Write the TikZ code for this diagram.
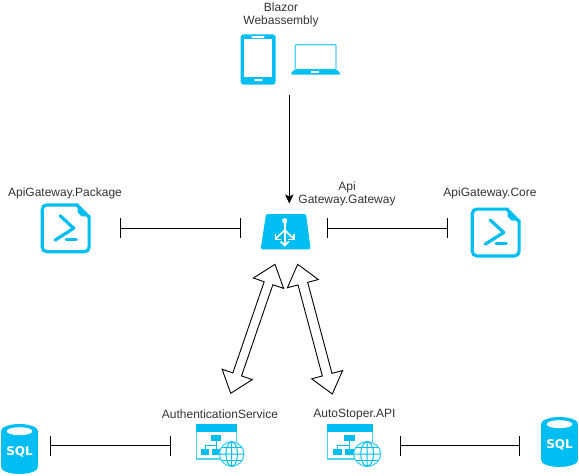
\documentclass[tikz,border=0pt]{standalone}
\usepackage{fontspec}
\setmainfont{Liberation Sans}
\newfontfamily\sqlfont[Scale=1]{DejaVu Sans}
\usetikzlibrary{arrows.meta,calc}
\definecolor{az}{HTML}{00BEF2}
\definecolor{azl}{HTML}{4DD2F6}
\definecolor{txt}{HTML}{333333}
\tikzset{
  lbl/.style={font=\fontsize{12}{13}\selectfont,text=txt,align=center,inner sep=0pt},
  iconbox/.style={inner sep=0pt,outer sep=0pt,minimum width=#1},
  barline/.style={draw=black,line width=0.8pt,{Bar[width=20pt,line width=1pt]}-{Bar[width=20pt,line width=1pt]}},
  flow/.style={draw=black,line width=0.9pt,-{Stealth[width=8.5pt,length=9pt,inset=2pt]}},
  hollow/.style={draw=black,fill=white,line width=0.9pt,line join=miter},
}
% doc icon, origin top-left, 50x50
\newcommand{\docicon}[2]{\begin{scope}[shift={(#1,#2)}]
  \draw[az,line width=3.2pt,rounded corners=4.5pt,fill=white] (38,1.6) -- (1.6,1.6) -- (1.6,48.4) -- (48.4,48.4) -- (48.4,12);
  \draw[az,line width=3.2pt,line cap=round] (36,1.6) -- (48.4,14);
  \fill[az] (37,0.5) -- (49.5,13) -- (41,13) -- (37,9) -- cycle;
  \draw[az,line width=3.2pt,line cap=round,line join=round] (19.5,12.5) -- (33,25) -- (14.5,36.7);
  \draw[az,line width=3.2pt,line cap=round] (25.5,36.3) -- (35.5,36.3);
\end{scope}}
% sql icon, origin top-left, 37x50
\newcommand{\sqlicon}[2]{\begin{scope}[shift={(#1,#2)}]
  \fill[az] (0,7) rectangle (37,43);
  \fill[az] (18.5,7) ellipse[x radius=18.5,y radius=7];
  \fill[az] (18.5,43) ellipse[x radius=18.5,y radius=7];
  \fill[white] (18.5,7.2) ellipse[x radius=12.8,y radius=4];
  \node[inner sep=0pt,text=white,font=\sqlfont\fontsize{12}{12}\bfseries\selectfont] at (18.5,27.5) {SQL};
\end{scope}}
% web app icon, origin top-left of the window; third argument is the width scale
\newcommand{\webicon}[3]{\begin{scope}[shift={(#1,#2)},xscale=#3]
  \draw[azl,line width=1.2pt,fill=white] (0.5,0.5) rectangle (40.5,35);
  \fill[az] (0,0) rectangle (41,8);
  \fill[az] (15.3,10.7) rectangle (25.3,16.5);
  \fill[az] (5.3,25) rectangle (13.3,30.5);
  \fill[az] (16,25) rectangle (24,30.5);
  \draw[az,line width=0.9pt] (20.3,16.5) -- (20.3,21) (9.3,25) -- (9.3,21) -- (20.3,21) -- (20.3,25);
  \draw[azl,line width=1.3pt,fill=white] (36,30) circle[radius=12.2];
  \draw[az,line width=1pt] (36,17.8) -- (36,42.2) (23.8,30) -- (48.2,30)
    (36,30) ellipse[x radius=5.8,y radius=12.2];
  \draw[az,line width=0.9pt] (26,23.5) -- (46,23.5) (26,36.5) -- (46,36.5);
\end{scope}}
% hollow two-headed arrow between two named points
\newcommand{\bigarrow}[3]{%
  \path coordinate (ua) at ($(#1)!20pt!(#2)$) coordinate (ub) at ($(#2)!20pt!(#1)$);
  \draw[hollow] (#1) -- ($(ua)!16pt!90:(#2)$) -- ($(ua)!#3!90:(#2)$) -- ($(ub)!#3!-90:(#1)$) -- ($(ub)!16pt!-90:(#1)$) -- (#2) -- ($(ub)!16pt!90:(#1)$) -- ($(ub)!#3!90:(#1)$) -- ($(ua)!#3!-90:(#2)$) -- ($(ua)!16pt!-90:(#2)$) -- cycle;
}
\begin{document}
\begin{tikzpicture}[x=1pt,y=-1pt]
\useasboundingbox (0,0) rectangle (579,475);

% icon footprints
\node[iconbox=100pt,minimum height=50.4pt] (dev) at (289.3,59.5) {};
\node[iconbox=50pt,minimum height=35.3pt] (gw) at (285.7,231.6) {};
\node[iconbox=50pt,minimum height=50pt] (pkg) at (65.7,228.3) {};
\node[iconbox=50pt,minimum height=50pt] (core) at (495.7,232.5) {};
\node[iconbox=37pt,minimum height=50pt] (sqla) at (19.5,449) {};
\node[iconbox=37pt,minimum height=50pt] (sqlb) at (559.5,442) {};
\node[iconbox=53pt,minimum height=48pt] (auth) at (222,448) {};
\node[iconbox=53pt,minimum height=48pt] (stop) at (353.5,448) {};
\coordinate (rowtop) at (0,228.3);
\coordinate (rowbot) at (0,445.5);

% devices
\fill[az,rounded corners=3pt] (240.7,34.3) rectangle (275.7,84.7);
\fill[white] (244.3,39.3) rectangle (272.3,77.3);
\fill[white,rounded corners=0.5pt] (251.7,36) rectangle (264.3,38);
\fill[white,rounded corners=0.5pt] (254.3,79) rectangle (262.3,81);
\draw[azl,line width=1.3pt,rounded corners=1pt,fill=white] (295.3,44.6) rectangle (336,69.5);
\fill[az,rounded corners=1.5pt] (291,74.7) -- (291,73) -- (295,69.3) -- (336.3,69.3) -- (340.3,73) -- (340.3,74.7) -- cycle;
\fill[white] (310.7,70.7) rectangle (319.3,72.7);

% gateway
\fill[az,rounded corners=1.5pt] (266,214) -- (306,214) -- (310.7,249.3) -- (260.7,249.3) -- cycle;
\fill[white] (284.7,220.7) circle[radius=2.6];
\draw[white,line width=1.6pt] (284.7,222) -- (284.7,245);
\draw[white,line width=1.6pt] (284.7,230) -- (276,238.5) (284.7,230) -- (293.4,238.5);
\draw[white,line width=1.6pt] (280.6,241.5) -- (284.7,245.5) -- (288.8,241.5);
\draw[white,line width=1.6pt] (275.3,233.5) -- (275.3,239.3) -- (281,239.3);
\draw[white,line width=1.6pt] (294.1,233.5) -- (294.1,239.3) -- (288.4,239.3);

\docicon{40.7}{203.3}
\docicon{470.7}{207.5}
\sqlicon{1}{424}
\sqlicon{541}{417}
\webicon{195.7}{424}{1}
\webicon{327.2}{424}{1.11}

% labels
\node[lbl] (lblblazor) at (281,14.5) {Blazor\\Webassembly};
\node[lbl] (lblapi) at (347,193.5) {Api\\Gateway.Gateway};
\node[lbl] (lblpkg) at (65,193.5) {ApiGateway.Package};
\node[lbl] (lblcore) at (490,193.5) {ApiGateway.Core};
\node[lbl] (lblauth) at (220,414.5) {AuthenticationService};
\node[lbl] (lblstop) at (354.5,414.5) {AutoStoper.API};

% connectors
\draw[flow,shorten <=10pt,shorten >=10.5pt] (dev.south) -- (dev.south |- gw.north);
\draw[barline,shorten <=29.3pt,shorten >=19.7pt] (pkg.east |- rowtop) -- (gw.west |- rowtop);
\draw[barline,shorten <=16.3pt,shorten >=22.7pt] (gw.east |- rowtop) -- (core.west |- rowtop);
\draw[barline,shorten <=12pt,shorten >=24.7pt] (sqla.east |- rowbot) -- (auth.west |- rowbot);
\draw[barline,shorten <=20.3pt,shorten >=20.7pt] (stop.east |- rowbot) -- (sqlb.west |- rowbot);

\coordinate (la) at (275,264.3);
\coordinate (lb) at (230.7,393.3);
\coordinate (ra) at (297.7,264.3);
\coordinate (rb) at (332.3,394);
\bigarrow{la}{lb}{4.6pt}
\bigarrow{ra}{rb}{5pt}
\end{tikzpicture}
\end{document}
